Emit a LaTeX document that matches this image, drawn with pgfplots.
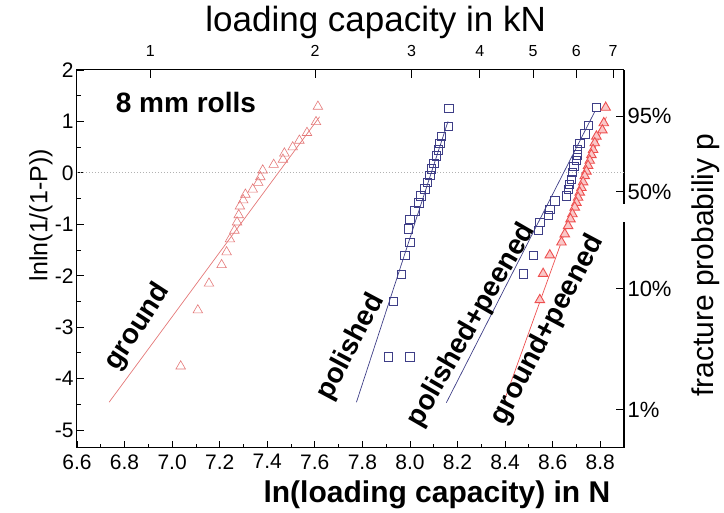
\documentclass[border=0pt]{standalone}
\usepackage{pgfplots}
\pgfplotsset{compat=1.18}
\usepackage{fontspec}
\setmainfont{Liberation Sans}
\definecolor{gnd}{RGB}{228,120,120}
\definecolor{gp}{RGB}{238,80,80}
\definecolor{gpfill}{RGB}{250,200,200}
\definecolor{pol}{RGB}{62,62,135}
\newcommand{\lbl}{\bfseries\fontsize{28}{28}\selectfont}

\begin{document}
\begin{tikzpicture}
\useasboundingbox (-77pt,-65pt) rectangle (647pt,448pt);
\begin{axis}[
  at={(0,0)}, anchor=south west,
  scale only axis, width=547pt, height=378pt,
  xmin=6.6, xmax=8.9, ymin=-5.35, ymax=2,
  xtick={6.6,6.8,7.0,7.2,7.4,7.6,7.8,8.0,8.2,8.4,8.6,8.8},
  xticklabels={6.6,6.8,7.0,7.2,7.4,7.6,7.8,8.0,8.2,8.4,8.6,8.8},
  minor x tick num=1,
  ytick={-5,-4,-3,-2,-1,0,1,2},
  yticklabels={-5,-4,-3,-2,-1,0,1,2},
  minor y tick num=1,
  xtick pos=bottom, ytick pos=left,
  tick align=inside,
  major tick length=7pt, minor tick length=4pt,
  tick style={black, line width=0.8pt},
  axis line style={line width=1pt},
  ticklabel style={font=\fontsize{21}{21}\selectfont},
  xticklabel style={yshift=-3pt},
  clip=false,
]
% zero line
\addplot[gray!60, dotted, line width=1pt] coordinates {(6.6,0) (8.9,0)};

% ground
\addplot[only marks, mark=triangle, mark size=5.5pt, gnd, mark options={line width=0.6pt}] coordinates {
(7.613,1.29) (7.605,0.99) (7.567,0.78) (7.535,0.63) (7.507,0.50) (7.472,0.38)
(7.466,0.26) (7.427,0.16) (7.381,0.05) (7.371,-0.08) (7.362,-0.19) (7.339,-0.32)
(7.308,-0.42) (7.299,-0.53) (7.285,-0.65) (7.280,-0.82) (7.273,-0.96) (7.262,-1.12)
(7.243,-1.29) (7.229,-1.54) (7.208,-1.79) (7.155,-2.15) (7.108,-2.67) (7.036,-3.76)};
\addplot[gnd, line width=0.7pt] coordinates {(6.735,-4.46) (7.62,1.09)};

% polished
\addplot[only marks, mark=square, mark size=4.2pt, pol, mark options={line width=0.6pt}] coordinates {
(8.164,1.25) (8.160,0.91) (8.132,0.71) (8.125,0.58) (8.118,0.45) (8.111,0.33)
(8.100,0.19) (8.090,0.08) (8.083,-0.05) (8.072,-0.18) (8.062,-0.31) (8.045,-0.45)
(8.037,-0.58) (8.020,-0.74) (7.999,-0.90) (7.992,-1.09) (7.999,-1.35) (7.978,-1.60)
(7.964,-1.97) (7.929,-2.50) (7.908,-3.58) (7.999,-3.58)};
\addplot[pol, line width=0.7pt] coordinates {(7.775,-4.46) (8.16,1.0)};

% polished+peened
\addplot[only marks, mark=square, mark size=4.2pt, pol, mark options={line width=0.6pt}] coordinates {
(8.784,1.27) (8.749,0.93) (8.735,0.76) (8.714,0.58) (8.704,0.46) (8.704,0.35)
(8.700,0.24) (8.689,0.13) (8.683,0.01) (8.679,-0.13) (8.669,-0.22) (8.665,-0.32)
(8.658,-0.45) (8.609,-0.54) (8.588,-0.71) (8.581,-0.83) (8.546,-0.96) (8.539,-1.12)
(8.518,-1.60) (8.476,-1.96)};
\addplot[pol, line width=0.7pt] coordinates {(8.153,-4.47) (8.777,1.19)};

% ground+peened
\addplot[only marks, mark=triangle*, mark size=5.5pt, gp, mark options={fill=gpfill, line width=0.9pt}] coordinates {
(8.823,1.27) (8.815,0.97) (8.809,0.83) (8.784,0.71) (8.777,0.58) (8.770,0.45)
(8.763,0.35) (8.756,0.24) (8.749,0.14) (8.742,0.03) (8.735,-0.06) (8.728,-0.18)
(8.721,-0.29) (8.714,-0.38) (8.707,-0.48) (8.700,-0.58) (8.693,-0.67) (8.683,-0.80)
(8.675,-0.90) (8.665,-1.03) (8.651,-1.19) (8.637,-1.35) (8.588,-1.60) (8.560,-1.96)
(8.546,-2.47)};
\addplot[gp, line width=0.7pt] coordinates {(8.392,-4.49) (8.826,1.09)};

% labels
\node[font=\lbl] at (axis cs:7.058,1.36) {8 mm rolls};
\node[font=\lbl, rotate=57] at (axis cs:6.856,-3.0) {ground};
\node[font=\lbl, rotate=62] at (axis cs:7.751,-3.39) {polished};
\node[font=\lbl, rotate=60] at (axis cs:8.26,-2.96) {polished+peened};
\node[font=\lbl, rotate=62] at (axis cs:8.579,-3.06) {ground+peened};

% axis titles
\node[font=\fontsize{35}{35}\selectfont, yshift=48pt] at (rel axis cs:0.546,1) {loading capacity in kN};
\node[font=\bfseries\fontsize{30}{30}\selectfont, yshift=-47pt] at (rel axis cs:0.658,0) {ln(loading capacity) in N};
\node[xshift=-36pt, rotate=90, font=\fontsize{25}{25}\selectfont] at (rel axis cs:0,0.616) {lnln(1/(1-P))};
\node[xshift=82pt, rotate=90, font=\fontsize{30}{30}\selectfont] at (rel axis cs:1,0.484) {fracture probabiliy p};
\end{axis}

\begin{axis}[
  at={(0,0)}, anchor=south west,
  scale only axis, width=547pt, height=378pt,
  xmin=6.6, xmax=8.9, ymin=-5.35, ymax=2,
  axis x line*=top, axis y line*=right,
  xtick={6.9078,7.6009,8.0064,8.2940,8.5172,8.6995,8.8537},
  xticklabels={1,2,3,4,5,6,7},
  ytick={-4.6002,-2.2504,-0.3665,1.0972},
  yticklabels={1\%,10\%,50\%,95\%},
  tick align=inside,
  major tick length=8pt,
  tick style={black, line width=0.8pt},
  axis line style={line width=1pt},
  xticklabel style={font=\fontsize{16}{16}\selectfont, yshift=10pt},
  yticklabel style={font=\fontsize{22}{22}\selectfont},
  clip=false,
]
% small break in the right-hand border, as in the scanned original
\draw[white, line width=5pt] (axis cs:8.9,-0.6) -- (axis cs:8.9,-0.95);
\end{axis}
\end{tikzpicture}
\end{document}
